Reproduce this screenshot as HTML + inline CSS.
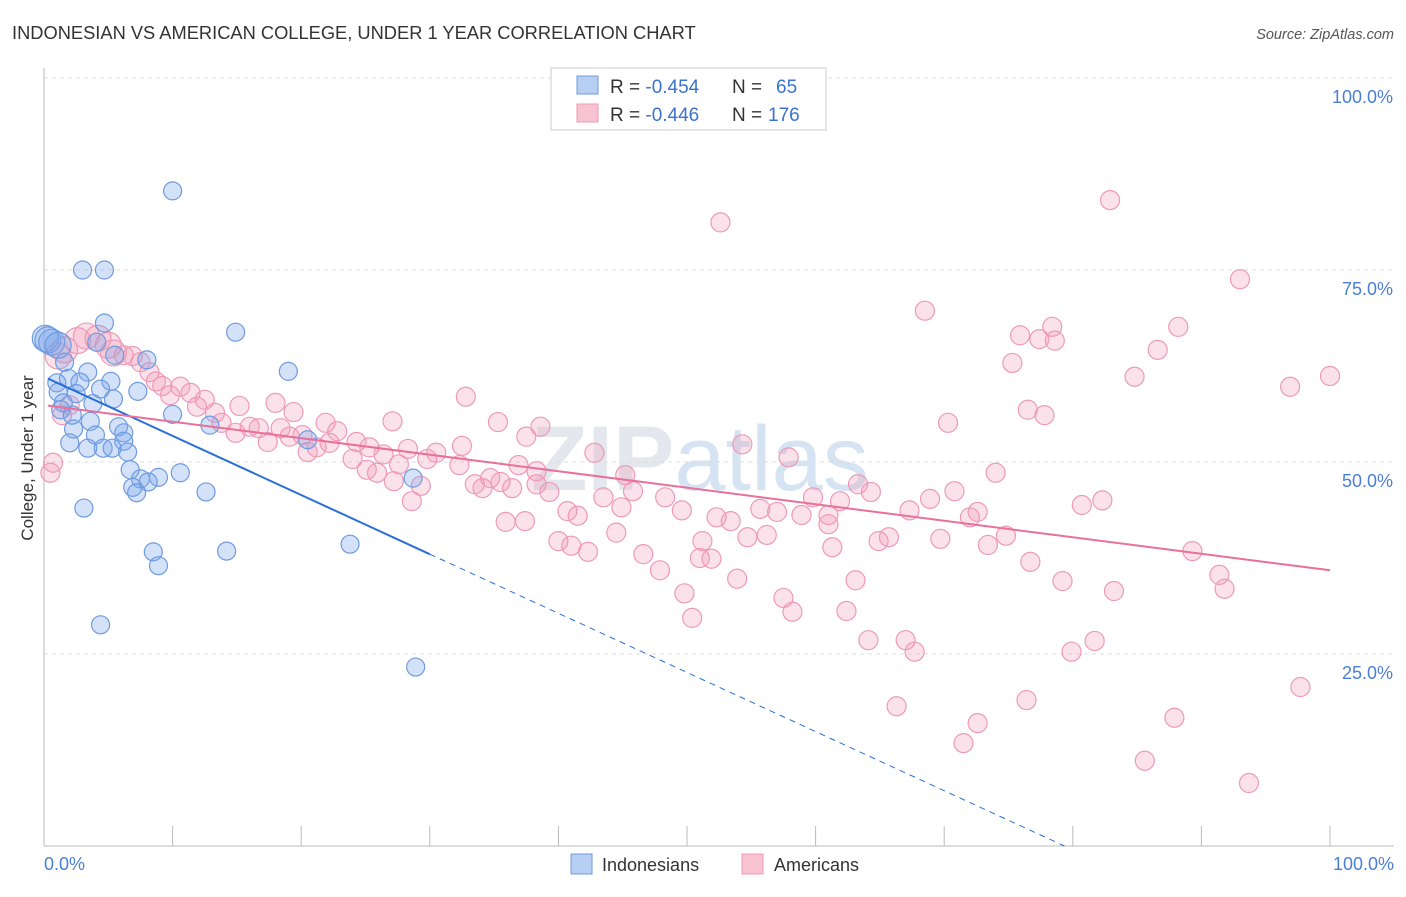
<!DOCTYPE html>
<html><head><meta charset="utf-8"><style>
body{margin:0;background:#fff;font-family:"Liberation Sans",sans-serif;}
svg text{font-family:"Liberation Sans",sans-serif;}
</style></head><body>
<svg id="chart" width="1406" height="892" xmlns="http://www.w3.org/2000/svg">
<text x="12" y="39" font-size="18.3" fill="#333">INDONESIAN VS AMERICAN COLLEGE, UNDER 1 YEAR CORRELATION CHART</text>
<text x="1394" y="39" font-size="14.5" fill="#555" text-anchor="end" font-style="italic">Source: ZipAtlas.com</text>
<text x="700" y="490" font-size="92" fill="#e4e8ee" text-anchor="middle" font-weight="bold" font-family="Liberation Serif">ZIP<tspan fill="#d5e3f3" font-family="Liberation Sans" font-weight="normal">atlas</tspan></text>
<g id="grid"></g>
<g id="marks"></g>
<g id="lines"></g>
<text transform="translate(33,458) rotate(-90)" font-size="17" fill="#333" text-anchor="middle">College, Under 1 year</text>
<text x="44" y="870" font-size="18" fill="#4a7fd6">0.0%</text>
<text x="1394" y="870" font-size="18" fill="#4a7fd6" text-anchor="end">100.0%</text>
<g>
<rect x="551" y="68" width="275" height="62" fill="#fff" stroke="#ccc"/>
<rect x="577" y="76" width="21" height="18" fill="#b7cff2" stroke="#6f9be0"/>
<rect x="577" y="104" width="21" height="18" fill="#f7c3d3" stroke="#ef9ab6"/>
<text x="610" y="93" font-size="19" fill="#333">R = <tspan fill="#3a72d0">-0.454</tspan></text>
<text x="732" y="93" font-size="19" fill="#333">N =</text>
<text x="776" y="93" font-size="19" fill="#3a72d0">65</text>
<text x="610" y="121" font-size="19" fill="#333">R = <tspan fill="#3a72d0">-0.446</tspan></text>
<text x="732" y="121" font-size="19" fill="#333">N =</text>
<text x="768" y="121" font-size="19" fill="#3a72d0">176</text>
</g>
<g>
<rect x="571" y="854" width="21" height="20" fill="#b7cff2" stroke="#6f9be0"/>
<text x="602" y="871" font-size="18" fill="#333">Indonesians</text>
<rect x="742" y="854" width="21" height="20" fill="#f7c3d3" stroke="#ef9ab6"/>
<text x="774" y="871" font-size="18" fill="#333">Americans</text>
</g>
</svg>
<script>
const yTicks=[25,50,75,100];
const yTickLabels=["25.0%","50.0%","75.0%","100.0%"];
const xTicks=[0,10,20,30,40,50,60,70,80,90,100];
const blueX=[10.0,3.0,4.7,14.9,0.1,0.3,0.6,1.1,4.7,4.1,5.5,8.0,19.0,1.6,3.4,1.9,2.8,1.0,5.2,4.4,7.3,1.1,2.5,5.4,1.5,3.8,1.3,2.2,10.0,3.6,5.8,12.9,2.3,6.2,4.0,6.2,2.0,3.4,4.6,5.3,6.5,20.5,6.7,10.6,8.9,28.7,7.5,6.9,8.1,7.2,12.6,3.1,23.8,8.5,14.2,8.9,4.4,28.9];
const blueY=[85.3,75.0,75.0,66.9,66.1,65.9,65.6,65.2,68.1,65.6,63.9,63.3,61.8,63.0,61.7,60.9,60.4,60.3,60.5,59.5,59.2,59.1,58.9,58.2,57.7,57.6,56.8,56.1,56.2,55.3,54.6,54.8,54.3,53.8,53.5,52.7,52.5,51.8,51.8,51.8,51.3,52.9,49.0,48.6,48.0,47.9,47.8,46.7,47.4,46.0,46.1,44.0,39.3,38.3,38.4,36.5,28.8,23.3];
const pinkX=[52.6,82.9,93.0,68.5,75.9,78.4,77.4,78.6,88.2,86.6,75.3,84.8,96.9,100,32.8,27.1,70.3,76.5,77.8,42.8,54.3,57.9,74.0,82.3,80.7,70.8,68.9,67.3,63.3,64.3,59.8,61.9,55.7,57.0,52.3,53.4,58.9,61.0,61.0,49.6,48.3,44.9,45.2,45.8,43.5,40.7,41.5,44.5,40.0,41.0,42.3,46.6,47.9,51.0,51.9,51.2,54.7,56.2,61.3,64.9,65.7,69.7,73.4,74.8,76.7,72.0,72.6,79.2,83.2,89.3,91.4,91.8,49.8,57.5,53.9,63.1,62.4,58.2,50.4,64.1,67.0,67.7,79.9,81.7,66.3,72.6,71.5,76.4,85.6,87.9,93.7,97.7,35.3,38.6,37.5,34.7,33.5,34.1,35.5,36.4,36.9,38.3,38.3,39.3,35.9,37.4,32.5,32.3,30.5,29.8,28.3,28.6,29.3,27.6,26.4,25.3,24.3,24.0,25.1,25.9,27.2,22.8,21.9,22.2,21.2,20.5,20.1,19.1,18.0,19.4,18.4,17.4,16.7,16.0,15.2,14.9,13.8,13.3,12.5,11.9,11.4,10.6,9.8,9.2,8.7,8.2,7.5,6.9,6.2,5.4,5.0,4.2,3.3,2.6,1.6,1.1,0.7,0.5,1.4,2.0];
const pinkY=[81.2,84.1,73.8,69.7,66.5,67.6,66.0,65.8,67.6,64.6,62.9,61.1,59.8,61.2,58.5,55.3,55.1,56.8,56.1,51.2,52.3,50.6,48.6,45.0,44.4,46.2,45.2,43.7,47.1,46.1,45.4,44.9,43.9,43.5,42.8,42.3,43.1,43.1,41.9,43.7,45.4,44.1,48.3,46.2,45.4,43.6,43.0,40.8,39.7,39.1,38.3,38.0,35.9,37.5,37.4,39.7,40.2,40.5,38.9,39.7,40.2,40.0,39.2,40.4,37.0,42.8,43.5,34.5,33.2,38.4,35.3,33.5,32.9,32.3,34.8,34.6,30.6,30.5,29.7,26.8,26.8,25.3,25.3,26.7,18.2,16.0,13.4,19.0,11.1,16.7,8.2,20.7,55.2,54.6,53.3,47.9,47.1,46.6,47.4,46.6,49.6,48.8,47.1,46.1,42.2,42.3,52.1,49.6,51.2,50.4,51.7,44.9,46.9,49.7,51.0,51.9,52.6,50.4,49.0,48.6,47.5,54.0,55.1,52.5,51.9,51.3,53.5,53.3,57.7,56.5,54.4,52.6,54.4,54.6,57.3,53.8,55.1,56.4,58.1,57.2,59.0,59.8,58.7,59.9,60.5,61.7,63.0,63.8,63.9,64.2,65.2,66.1,66.4,65.8,64.6,63.8,49.9,48.6,56.1,57.4];
const blueTrend=[61.1,-0.77];
const pinkTrend=[57.4,-0.215];

const NS="http://www.w3.org/2000/svg";
const X0=44,X1=1330,Y0=846,Y100=78;
const sx=v=>X0+(X1-X0)*v/100;
const sy=v=>Y0-(Y0-Y100)*v/100;
function mk(tag,attrs,parent){const e=document.createElementNS(NS,tag);for(const k in attrs)e.setAttribute(k,attrs[k]);parent.appendChild(e);return e;}
const grid=document.getElementById('grid'),marks=document.getElementById('marks'),lines=document.getElementById('lines');
yTicks.forEach((t,i)=>{
  const l=mk('line',{x1:X0,x2:1394,y1:sy(t),y2:sy(t),stroke:'#ddd','stroke-dasharray':'4,4'},grid);
  
  
  const tx=mk('text',{x:1393,y:sy(t)+25,'font-size':18,fill:'#4a7fd6','text-anchor':'end'},grid);
  tx.textContent=yTickLabels[i];
  
  
});
const ax=mk('line',{x1:X0,x2:X0,y1:68,y2:Y0,stroke:'#bbb'},grid);


const bx=mk('line',{x1:X0,x2:1394,y1:Y0,y2:Y0,stroke:'#bbb'},grid);


xTicks.forEach(t=>{
  const l=mk('line',{x1:sx(t),x2:sx(t),y1:Y0-20,y2:Y0,stroke:'#bbb'},grid);
  
  
});
pinkX.forEach((x,i)=>{
  const c=mk('circle',{cx:sx(x),cy:sy(pinkY[i]),r:(x<6&&pinkY[i]>60)?13:9.5,fill:'rgba(242,150,180,0.28)',stroke:'#ee9ab6','stroke-width':1.2},marks);
  
  
});
blueX.forEach((x,i)=>{
  const c=mk('circle',{cx:sx(x),cy:sy(blueY[i]),r:(x<1.2&&blueY[i]>65)?13:9,fill:'rgba(120,165,235,0.32)',stroke:'#6f9be0','stroke-width':1.2},marks);
  
  
});
const bEnd=-blueTrend[0]/blueTrend[1];
const bl=mk('line',{x1:sx(0.3),y1:sy(blueTrend[0]+blueTrend[1]*0.3),x2:sx(30),y2:sy(blueTrend[0]+blueTrend[1]*30),stroke:'#2a6fd6','stroke-width':2},lines);


const bd=mk('line',{x1:sx(30),y1:sy(blueTrend[0]+blueTrend[1]*30),x2:sx(bEnd),y2:sy(0),stroke:'#2a6fd6','stroke-width':1,'stroke-dasharray':'6,5'},lines);


const pl=mk('line',{x1:sx(0.3),y1:sy(pinkTrend[0]+pinkTrend[1]*0.3),x2:sx(100),y2:sy(pinkTrend[0]+pinkTrend[1]*100),stroke:'#e8709a','stroke-width':2},lines);


</script>
</body></html>
